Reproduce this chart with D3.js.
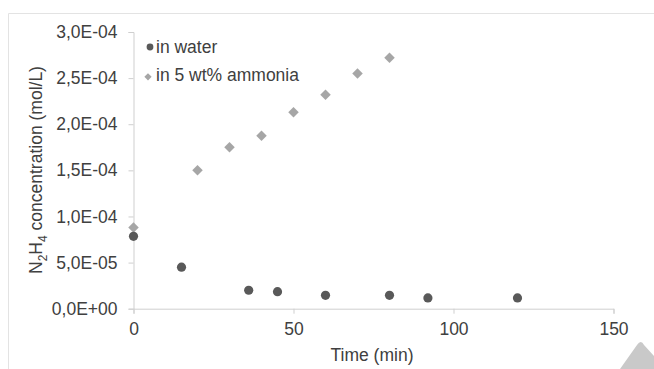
<!DOCTYPE html>
<html>
<head>
<meta charset="utf-8">
<script src="https://cdn.jsdelivr.net/npm/d3@7"></script>
<style>
  body { margin: 0; background: #fff; }
  svg { display: block; font-family: Arial, "Liberation Sans", sans-serif; }
</style>
</head>
<body>
<div id="chart"></div>
<script>
// Series
const waterTime = [0, 15, 36, 45, 60, 80, 92, 120];
const waterConc = [7.85e-5, 4.5e-5, 2.0e-5, 1.85e-5, 1.45e-5, 1.45e-5, 1.17e-5, 1.17e-5];
const ammoniaTime = [0, 20, 30, 40, 50, 60, 70, 80];
const ammoniaConc = [8.8e-5, 1.5e-4, 1.75e-4, 1.875e-4, 2.13e-4, 2.32e-4, 2.55e-4, 2.72e-4];
const xTicks = [0, 50, 100, 150];
const yTicks = [0, 5e-5, 1e-4, 1.5e-4, 2e-4, 2.5e-4, 3e-4];
const seriesNames = ["in water", "in 5 wt% ammonia"];

const width = 654, height = 369;
const fontSize = "17.5px";
const svg = d3.select("#chart").append("svg")
    .attr("width", width)
    .attr("height", height);

// chart area frame (only top and left edges visible)
svg.append("path")
    .attr("d", "M8.5,369 V13.5 H654")
    .attr("fill", "none")
    .attr("stroke", "#e3e3e3")
    .attr("stroke-width", 1);

const x = d3.scaleLinear().domain([0, 150]).range([133.5, 613.5]);
const y = d3.scaleLinear().domain([0, 3e-4]).range([308.7, 32]);

const fmtY = d => d === 0 ? "0,0E+00" : d3.format(".1e")(d)
    .replace(".", ",")
    .replace(/e([+-])(\d)$/, "E$10$2")
    .replace(/e/, "E");

// axes
const xAxis = svg.append("g")
    .attr("transform", `translate(0,${y(0)})`)
    .call(d3.axisBottom(x).tickValues(xTicks).tickSize(5).tickPadding(9));
const yAxis = svg.append("g")
    .attr("transform", `translate(${x(0)},0)`)
    .call(d3.axisLeft(y).tickValues(yTicks).tickFormat(fmtY).tickSize(5).tickPadding(11));

[xAxis, yAxis].forEach(a => {
    a.select(".domain").attr("stroke", "#cfcfcf");
    a.selectAll(".tick line").attr("stroke", "#cfcfcf");
    a.selectAll(".tick text")
        .attr("fill", "#404040")
        .style("font-size", fontSize)
        .style("font-family", "Arial, 'Liberation Sans', sans-serif");
});

// axis titles
svg.append("text")
    .attr("x", 372)
    .attr("y", 361)
    .attr("text-anchor", "middle")
    .attr("fill", "#404040")
    .style("font-size", fontSize)
    .text("Time (min)");

const yTitle = svg.append("text")
    .attr("transform", "translate(42,170) rotate(-90)")
    .attr("text-anchor", "middle")
    .attr("fill", "#404040")
    .style("font-size", fontSize);
yTitle.append("tspan").text("N");
yTitle.append("tspan").attr("dy", 5).style("font-size", "12px").text("2");
yTitle.append("tspan").attr("dy", -5).text("H");
yTitle.append("tspan").attr("dy", 5).style("font-size", "12px").text("4");
yTitle.append("tspan").attr("dy", -5).text(" concentration (mol/L)");

// points
const water = waterTime.map((t, i) => ({ t, c: waterConc[i] }));
const ammonia = ammoniaTime.map((t, i) => ({ t, c: ammoniaConc[i] }));

svg.append("g")
    .selectAll("path")
    .data(ammonia)
    .join("path")
    .attr("d", d3.symbol(d3.symbolDiamond2, 70))
    .attr("transform", d => `translate(${x(d.t)},${y(d.c)})`)
    .attr("fill", "#a6a6a6");

svg.append("g")
    .selectAll("circle")
    .data(water)
    .join("circle")
    .attr("cx", d => x(d.t))
    .attr("cy", d => y(d.c))
    .attr("r", 4.6)
    .attr("fill", "#595959");

// legend
const legend = svg.append("g");
legend.append("circle")
    .attr("cx", 150).attr("cy", 47).attr("r", 3.4)
    .attr("fill", "#595959");
legend.append("path")
    .attr("d", d3.symbol(d3.symbolDiamond2, 34))
    .attr("transform", "translate(148,76.8)")
    .attr("fill", "#a6a6a6");
legend.selectAll("text")
    .data(seriesNames)
    .join("text")
    .attr("x", 156)
    .attr("y", (d, i) => 52.5 + i * 28.5)
    .attr("fill", "#404040")
    .style("font-size", fontSize)
    .text(d => d);

// grey shape in the lower right corner
svg.append("path")
    .attr("d", "M620,369 L637,345 Q641,339 644,345 L654,356 L654,369 Z")
    .attr("fill", "#c9c9c9");
</script>
</body>
</html>
